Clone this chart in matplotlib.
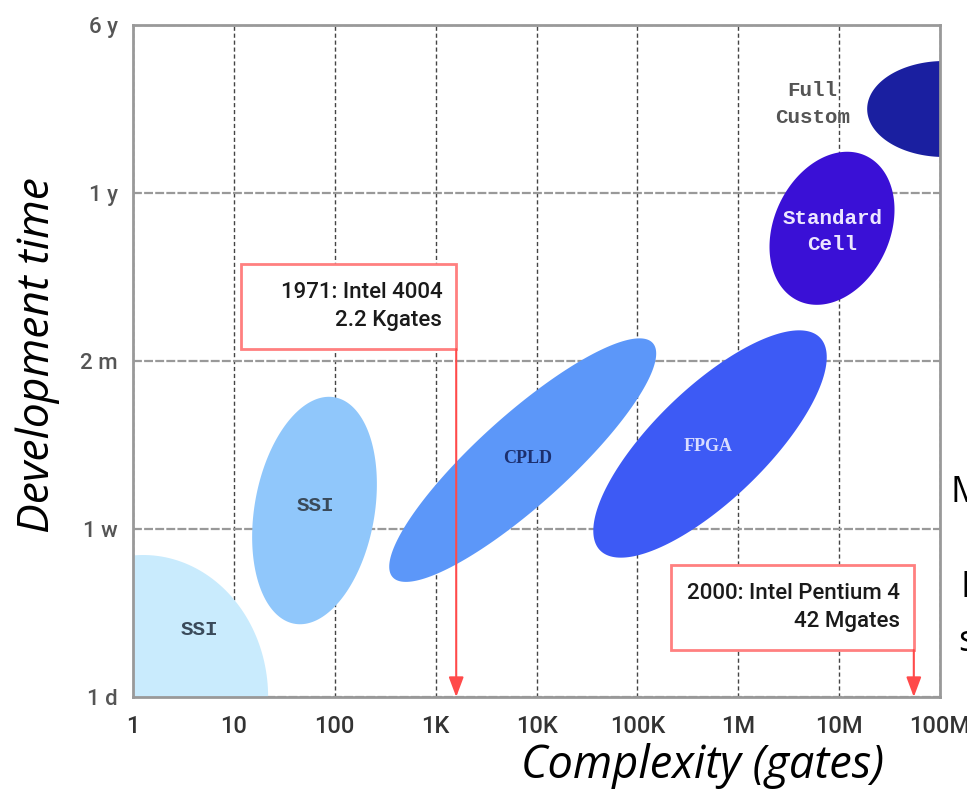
import numpy as np
import matplotlib
matplotlib.use('Agg')
import matplotlib.pyplot as plt

# ---- data ----
gate_ticks = [1, 10, 100, 1e3, 1e4, 1e5, 1e6, 1e7, 1e8]
gate_labels = ['1', '10', '100', '1K', '10K', '100K', '1M', '10M', '100M']
time_ticks = [0, 1, 2, 3, 4]
time_labels = ['1 d', '1 w', '2 m', '1 y', '6 y']

# technology regions: centre (gates, time level), spread along main axes (px) and tilt (deg)
tech_names = ['SSI', 'SSI', 'CPLD', 'FPGA', 'Standard\nCell', 'Full\nCustom']
tech_gates = [1.26, 63, 7.3e3, 5.25e5, 8.5e6, 1.1e8]
tech_level = [0.0, 1.11, 1.41, 1.506, 2.79, 3.5]
tech_major = [125, 115, 175, 153, 80, 77]
tech_minor = [142, 60, 45, 56, 58, 48]
tech_angle = [0, 80, 42, 44, 65, 0]
tech_colors = ['#c9ebfd', '#90c7fb', '#5c97f9', '#3d5af5', '#3a10d6', '#1a1fa0']

# label spots (gates, level)
label_gates = [4.6, 65, 8.2e3, 5.0e5, 8.6e6, 5.4e6]
label_level = [0.40, 1.14, 1.42, 1.49, 2.77, 3.53]
label_colors = ['#3a4a5a', '#3a4a5a', '#1c2f6e', '#d8dcff', '#ece6ff', '#555555']

# milestones
chip_names = ['1971: Intel 4004\n2.2 Kgates', '2000: Intel Pentium 4\n42 Mgates']
chip_gates = [1.6e3, 5.5e7]

fig = plt.figure(figsize=(9.67, 7.89), dpi=100)
ax = fig.add_axes([133 / 967, 92 / 789, 807 / 967, 672 / 789])
ax.set_xscale('log')
ax.set_xlim(1, 1e8)
ax.set_ylim(0, 4)

ax.set_xticks(gate_ticks)
ax.set_xticklabels(gate_labels, family=['Roboto', 'DejaVu Sans'],
                   fontsize=17, color='#333333', fontweight='medium')
ax.minorticks_off()
ax.set_yticks(time_ticks)
ax.set_yticklabels(time_labels, family=['Roboto', 'DejaVu Sans'],
                   fontsize=16, color='#555555', fontweight='medium')
ax.tick_params(axis='x', length=0, pad=13)
ax.tick_params(axis='y', length=0, pad=11)

ax.set_axisbelow(True)
ax.grid(axis='x', ls=(0, (3, 2)), color='#444444', lw=1)
ax.grid(axis='y', ls=(0, (4, 1)), color='#999999', lw=1.6)
for s in ax.spines.values():
    s.set_color('#999999')
    s.set_linewidth(2)

# ellipses are round in screen space, so build them in pixel units
fig.canvas.draw()
bb = ax.get_window_extent()
sx = bb.width / 8.0
sy = bb.height / 4.0
t = np.linspace(0, 2 * np.pi, 200)
for i in range(len(tech_names)):
    th = np.radians(tech_angle[i])
    a, b = tech_major[i], tech_minor[i]
    dx = a * np.cos(t) * np.cos(th) - b * np.sin(t) * np.sin(th)
    dy = a * np.cos(t) * np.sin(th) + b * np.sin(t) * np.cos(th)
    xs = 10 ** (np.log10(tech_gates[i]) + dx / sx)
    ys = tech_level[i] + dy / sy
    ax.fill(xs, ys, color=tech_colors[i], lw=0, zorder=2)

for i in range(len(tech_names)):
    if tech_names[i] in ('CPLD', 'FPGA'):
        fam, fs = ['Liberation Serif', 'DejaVu Serif'], 13
    else:
        fam, fs = ['Liberation Mono', 'DejaVu Sans Mono'], 15
    ax.text(label_gates[i], label_level[i], tech_names[i], ha='center', va='center',
            family=fam, fontsize=fs, fontweight='bold', color=label_colors[i],
            linespacing=1.5, zorder=3)


def callout(x, text, box_dec, y_top, y_bot):
    x0 = 10 ** (np.log10(x) - box_dec)
    ax.fill([x0, x, x, x0, x0], [y_bot, y_bot, y_top, y_top, y_bot], facecolor='white',
            edgecolor='#ff8080', lw=2, zorder=4)
    ax.annotate(text, xy=(x, (y_top + y_bot) / 2), xytext=(-10, 0), textcoords='offset points',
                ha='right', va='center', multialignment='right', linespacing=1.4,
                family=['Roboto', 'DejaVu Sans'], fontsize=16, fontweight='medium',
                color='#1a1a1a', zorder=5)
    ax.annotate('', xy=(x, 0), xytext=(x, y_bot),
                arrowprops=dict(arrowstyle='-|>,head_length=1.2,head_width=0.45',
                                color='#ff4a4a', lw=1.5, mutation_scale=10,
                                shrinkA=0, shrinkB=0), zorder=5)


callout(chip_gates[0], chip_names[0], 2.13, 2.577, 2.071)
callout(chip_gates[1], chip_names[1], 2.41, 0.786, 0.280)

ax.set_xlabel('Complexity (gates)', family=['Open Sans', 'DejaVu Sans'], style='italic',
              fontsize=32.5, color='black')
ax.xaxis.set_label_coords((703 - 133) / 807, -(778 - 697) / 672)
ax.xaxis.label.set_va('baseline')
ax.set_ylabel('Development time', family=['Open Sans', 'DejaVu Sans'], style='italic',
              fontsize=32, color='black')
ax.yaxis.set_label_coords(-(133 - 38) / 807, (697 - 355) / 672)
ax.yaxis.label.set_va('center')

# fragments of slide text cut off at the right edge
for txt, xp, yp in [('M', 950, 502), ('D', 961, 597), ('s', 958, 651)]:
    fig.text(xp / 967, 1 - yp / 789, txt, family=['Open Sans', 'DejaVu Sans'],
             fontsize=26, color='black', va='baseline')

fig.savefig('out.png', dpi=100)
